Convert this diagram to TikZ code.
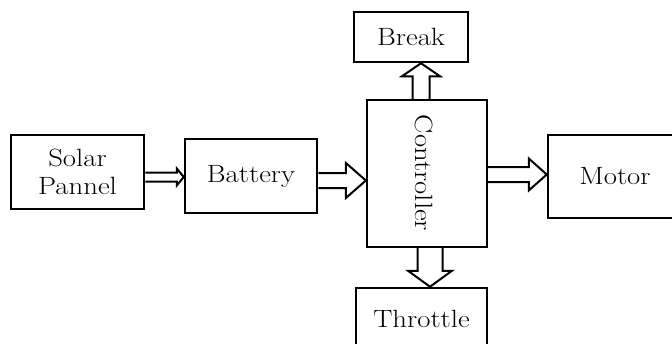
\documentclass[tikz,border=0pt]{standalone}
\usepackage{graphicx}
\usetikzlibrary{calc}
\newcommand\wide[1]{\scalebox{1.15}[1]{#1}}
\tikzset{
  lbl/.style={font=\fontsize{25}{28}\selectfont, align=center},
  blk/.style={lbl, draw, line width=2.5pt, fill=white, inner sep=0pt},
  hollow/.style={draw, fill=white, line width=2pt, line join=miter}
}
\newcommand\hollowarrow[5]{%
  \path let \p1=(#1), \p2=(#2) in \pgfextra{%
    \pgfmathparse{atan2(\y2-\y1,\x2-\x1)}\xdef\haang{\pgfmathresult}%
    \pgfmathparse{veclen(\x2-\x1,\y2-\y1)}\xdef\halen{\pgfmathresult}%
    \pgfmathparse{\x1}\xdef\hax{\pgfmathresult}%
    \pgfmathparse{\y1}\xdef\hay{\pgfmathresult}};
  \begin{scope}[shift={(\hax pt,\hay pt)}, rotate=\haang]
    \filldraw[hollow] (0pt,#3pt) -- ({\halen pt-#5pt},#3pt) -- ({\halen pt-#5pt},#4pt)
      -- (\halen pt,0pt) -- ({\halen pt-#5pt},-#4pt) -- ({\halen pt-#5pt},-#3pt) -- (0pt,-#3pt);
  \end{scope}}
\begin{document}
\begin{tikzpicture}[x=1pt,y=-1pt]
  \clip (0,0) rectangle (672,343);
  \fill[white] (0,0) rectangle (672,343);
  \node[blk, minimum width=133pt, minimum height=74pt] (sol) at (77.5,172) {\wide{Solar}\\\wide{Pannel}};
  \node[blk, minimum width=132pt, minimum height=74pt] (bat) at (251,176) {\wide{Battery}};
  \node[blk, line width=2.2pt, minimum width=120pt, minimum height=147pt] (ctl) at (427,173.5) {};
  \node[lbl, rotate=-90] (ctltxt) at (424,173) {\wide{Controller}};
  \node[blk, minimum width=114pt, minimum height=50pt] (brk) at (411,37) {\wide{Break}};
  \node[blk, minimum width=131pt, minimum height=62pt] (thr) at (421.5,319) {\wide{Throttle}};
  \node[blk, minimum width=134pt, minimum height=83pt] (mot) at (615,176.5) {\wide{Motor}};

  \coordinate (a1s) at ($(sol.east)+(0,5)$);
  \coordinate (a1e) at ($(bat.west)+(0,1)$);
  \coordinate (a2s) at ($(bat.east)+(0,4.5)$);
  \coordinate (a2e) at ($(ctl.west)+(0,7)$);
  \coordinate (a3s) at ($(ctl.north)+(-6,0)$);
  \coordinate (a3e) at ($(brk.south)+(10,0)$);
  \coordinate (a4s) at ($(ctl.south)+(3,0)$);
  \coordinate (a4e) at ($(thr.north)+(8.5,0)$);
  \coordinate (a5s) at ($(ctl.east)+(0,1)$);
  \coordinate (a5e) at ($(mot.west)+(0,-2)$);

  \hollowarrow{a1s}{a1e}{4.5}{8.5}{7}
  \hollowarrow{a2s}{a2e}{7.5}{17.5}{20}
  \hollowarrow{a3s}{a3e}{8.5}{19}{13}
  \hollowarrow{a4s}{a4e}{12.5}{22}{16}
  \hollowarrow{a5s}{a5e}{7.5}{16}{18}
\end{tikzpicture}
\end{document}
